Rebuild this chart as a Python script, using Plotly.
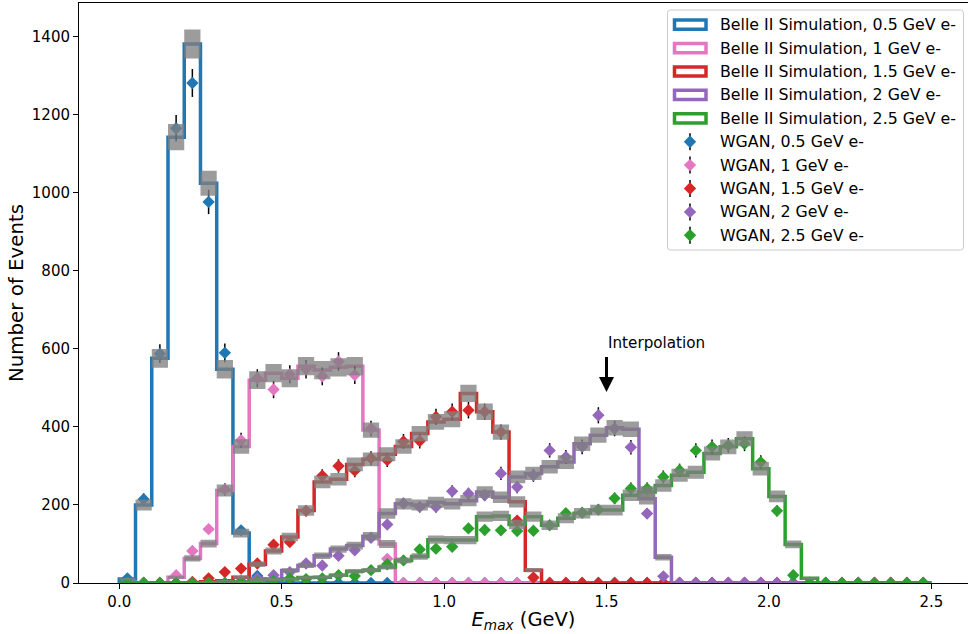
import numpy as np
import plotly.graph_objects as go

# Binning of the E_max distribution (GeV)
bin_edges = [round(0.05 * i, 2) for i in range(51)]

energies = ["0.5", "1", "1.5", "2", "2.5"]
colors = ["#1f77b4", "#e377c2", "#d62728", "#9467bd", "#2ca02c"]

# Belle II simulation, events per bin
sim_05 = [10, 200, 576, 1143, 1382, 1025, 548, 128, 10, 0,
          0, 0, 0, 0, 0, 0, 0, 0, 0, 0,
          0, 0, 0, 0, 0, 0, 0, 0, 0, 0,
          0, 0, 0, 0, 0, 0, 0, 0, 0, 0,
          0, 0, 0, 0, 0, 0, 0, 0, 0, 0]
sim_10 = [0, 0, 0, 15, 63, 101, 237, 350, 520, 538,
          525, 556, 546, 553, 556, 392, 100, 0, 0, 0,
          0, 0, 0, 0, 0, 0, 0, 0, 0, 0,
          0, 0, 0, 0, 0, 0, 0, 0, 0, 0,
          0, 0, 0, 0, 0, 0, 0, 0, 0, 0]
sim_15 = [0, 0, 0, 0, 0, 3, 6, 15, 48, 82,
          118, 186, 259, 266, 304, 317, 330, 350, 383, 413,
          420, 486, 439, 387, 208, 33, 0, 0, 0, 0,
          0, 0, 0, 0, 0, 0, 0, 0, 0, 0,
          0, 0, 0, 0, 0, 0, 0, 0, 0, 0]
sim_20 = [0, 0, 0, 0, 0, 0, 0, 3, 5, 10,
          32, 45, 70, 87, 96, 120, 178, 203, 200, 207,
          203, 211, 233, 220, 272, 281, 298, 310, 357, 379,
          398, 394, 216, 66, 0, 0, 0, 0, 0, 0,
          0, 0, 0, 0, 0, 0, 0, 0, 0, 0]
sim_25 = [0, 0, 0, 0, 0, 0, 2, 3, 5, 8,
          10, 14, 15, 20, 30, 33, 41, 58, 68, 111,
          110, 110, 170, 172, 150, 170, 148, 166, 179, 187,
          187, 225, 233, 250, 276, 284, 332, 349, 370, 293,
          222, 99, 12, 0, 0, 0, 0, 0, 0, 0]

# WGAN generated showers, events per bin
wgan_05 = [12, 215, 588, 1166, 1282, 977, 590, 135, 18, 3,
           0, 0, 0, 0, 0, 0, 0, 0, 0, 0,
           0, 0, 0, 0, 0, 0, 0, 0, 0, 0,
           0, 0, 0, 0, 0, 0, 0, 0, 0, 0,
           0, 0, 0, 0, 0, 0, 0, 0, 0, 0]
wgan_10 = [0, 0, 0, 20, 82, 138, 240, 366, 525, 496,
           535, 548, 530, 568, 533, 396, 62, 0, 0, 0,
           0, 0, 0, 0, 0, 0, 0, 0, 0, 0,
           0, 0, 0, 0, 0, 0, 0, 0, 0, 0,
           0, 0, 0, 0, 0, 0, 0, 0, 0, 0]
wgan_15 = [0, 0, 0, 0, 3, 12, 28, 37, 50, 98,
           105, 185, 275, 300, 288, 320, 315, 363, 364, 426,
           439, 443, 439, 387, 160, 14, 0, 0, 0, 0,
           0, 0, 0, 0, 0, 0, 0, 0, 0, 0,
           0, 0, 0, 0, 0, 0, 0, 0, 0, 0]
wgan_20 = [0, 0, 0, 0, 0, 0, 0, 5, 12, 20,
           28, 50, 45, 70, 84, 116, 150, 204, 195, 195,
           235, 229, 225, 281, 246, 276, 340, 323, 349, 430,
           396, 348, 178, 17, 0, 0, 0, 0, 0, 0,
           0, 0, 0, 0, 0, 0, 0, 0, 0, 0]
wgan_25 = [0, 0, 0, 0, 0, 0, 0, 2, 3, 5,
           12, 10, 12, 20, 18, 33, 48, 58, 86, 88,
           93, 140, 136, 135, 133, 134, 148, 179, 180, 188,
           217, 242, 242, 272, 289, 340, 349, 353, 357, 310,
           185, 20, 0, 0, 0, 0, 0, 0, 0, 0]

sim_sets = [sim_05, sim_10, sim_15, sim_20, sim_25]
wgan_sets = [wgan_05, wgan_10, wgan_15, wgan_20, wgan_25]

edges = np.array(bin_edges)
centers = 0.5 * (edges[:-1] + edges[1:])

FONT = "DejaVu Sans"
W, H = 968, 634
ML, MR, MT, MB = 79, 0, 3, 51
PW, PH = W - ML - MR, H - MT - MB

fig = go.Figure()

# Histogram outlines (step style, closed down to zero at both ends)
for vals, col, en in zip(sim_sets, colors, energies):
    xs = [edges[0]] + list(edges[:-1]) + [edges[-1], edges[-1]]
    ys = [0] + list(vals) + [vals[-1], 0]
    fig.add_trace(go.Scatter(
        x=xs, y=ys, mode="lines", line=dict(color=col, width=3.5, shape="hv"),
        name=f"Belle II Simulation, {en} GeV e-", hoverinfo="skip"))

# WGAN points with statistical error bars
for vals, col, en in zip(wgan_sets, colors, energies):
    v = np.array(vals, dtype=float)
    fig.add_trace(go.Scatter(
        x=centers, y=v, mode="markers",
        marker=dict(symbol="diamond", size=9.5, color=col),
        error_y=dict(type="data", array=np.sqrt(v), color="black",
                     thickness=1.5, width=0),
        name=f"WGAN, {en} GeV e-"))

# Statistical uncertainty bands of the simulation (sqrt(N) per bin)
for vals in sim_sets:
    bx, by = [], []
    for lo, hi, n in zip(edges[:-1], edges[1:], vals):
        if n <= 0:
            continue
        e = np.sqrt(n)
        bx += [lo, hi, hi, lo, lo, None]
        by += [n - e, n - e, n + e, n + e, n - e, None]
    fig.add_trace(go.Scatter(
        x=bx, y=by, mode="lines", fill="toself",
        fillcolor="rgba(128,128,128,0.78)", line=dict(width=0),
        hoverinfo="skip", showlegend=False))

# Annotation: interpolated energy, arrow pointing down onto the 2 GeV peak
fig.add_annotation(x=1.5, y=490, ax=1.5, ay=587, xref="x", yref="y",
                   axref="x", ayref="y", text="Interpolation",
                   xanchor="left", yanchor="bottom",
                   showarrow=True, arrowhead=2, arrowsize=1.0, arrowwidth=3,
                   arrowcolor="black", startstandoff=3,
                   font=dict(family=FONT, size=15.2, color="black"))


# Legend drawn in pixel units, converted to paper coordinates
def px(x):
    return (x - ML) / PW


def py(y):
    return (H - MB - y) / PH


shapes = []
fx0, fx1, fy0, fy1, r = 667.5, 963.5, 10.0, 250.0, 3.0
frame_path = (
    f"M {px(fx0 + r)} {py(fy0)} L {px(fx1 - r)} {py(fy0)} "
    f"Q {px(fx1)} {py(fy0)} {px(fx1)} {py(fy0 + r)} "
    f"L {px(fx1)} {py(fy1 - r)} Q {px(fx1)} {py(fy1)} {px(fx1 - r)} {py(fy1)} "
    f"L {px(fx0 + r)} {py(fy1)} Q {px(fx0)} {py(fy1)} {px(fx0)} {py(fy1 - r)} "
    f"L {px(fx0)} {py(fy0 + r)} Q {px(fx0)} {py(fy0)} {px(fx0 + r)} {py(fy0)} Z")
shapes.append(dict(type="path", xref="paper", yref="paper", path=frame_path,
                   fillcolor="rgba(255,255,255,0.8)",
                   line=dict(color="#cccccc", width=1), layer="above"))

row0, drow = 24.7, 23.4
labels = ([f"Belle II Simulation, {en} GeV e-" for en in energies]
          + [f"WGAN, {en} GeV e-" for en in energies])
for k, lab in enumerate(labels):
    yc = row0 + drow * k
    if k < 5:
        shapes.append(dict(type="rect", xref="paper", yref="paper",
                           x0=px(674.5), x1=px(706), y0=py(yc + 4.6), y1=py(yc - 4.6),
                           line=dict(color=colors[k], width=3.5),
                           fillcolor="rgba(0,0,0,0)", layer="above"))
    else:
        c = colors[k - 5]
        shapes.append(dict(type="line", xref="paper", yref="paper",
                           x0=px(690), x1=px(690), y0=py(yc - 8.5), y1=py(yc + 8.5),
                           line=dict(color="black", width=1.5), layer="above"))
        d = 6.2
        shapes.append(dict(
            type="path", xref="paper", yref="paper",
            path=(f"M {px(690)} {py(yc - d)} L {px(690 + d)} {py(yc)} "
                  f"L {px(690)} {py(yc + d)} L {px(690 - d)} {py(yc)} Z"),
            fillcolor=c, line=dict(width=0), layer="above"))
    fig.add_annotation(x=px(717.5), y=py(yc), xref="paper", yref="paper",
                       text=lab, showarrow=False, xanchor="left", yanchor="middle",
                       font=dict(family=FONT, size=15.8, color="black"))

fig.update_layout(
    width=W, height=H,
    margin=dict(l=ML, r=MR, t=MT, b=MB),
    paper_bgcolor="white", plot_bgcolor="white",
    showlegend=False,
    shapes=shapes,
    font=dict(family=FONT, size=15, color="black"),
    xaxis=dict(
        range=[-0.124, 2.613], tickmode="array",
        tickvals=[0, 0.5, 1.0, 1.5, 2.0, 2.5],
        ticktext=["0.0", "0.5", "1.0", "1.5", "2.0", "2.5"],
        ticks="outside", ticklen=5, tickwidth=1, tickcolor="black",
        showline=True, linecolor="black", linewidth=1, mirror=True,
        showgrid=False, zeroline=False,
        tickfont=dict(family=FONT, size=15, color="black"),
        title=dict(text="<i>E<sub>max</sub></i> (GeV)", standoff=2,
                   font=dict(family=FONT, size=19.5, color="black")),
    ),
    yaxis=dict(
        range=[0, 1487], tickmode="array",
        tickvals=[0, 200, 400, 600, 800, 1000, 1200, 1400],
        ticks="outside", ticklen=5, tickwidth=1, tickcolor="black",
        showline=True, linecolor="black", linewidth=1, mirror=False,
        showgrid=False, zeroline=False,
        tickfont=dict(family=FONT, size=15, color="black"),
        title=dict(text="Number of Events", standoff=2,
                   font=dict(family=FONT, size=19.8, color="black")),
    ),
)

fig.write_html("out.html")
